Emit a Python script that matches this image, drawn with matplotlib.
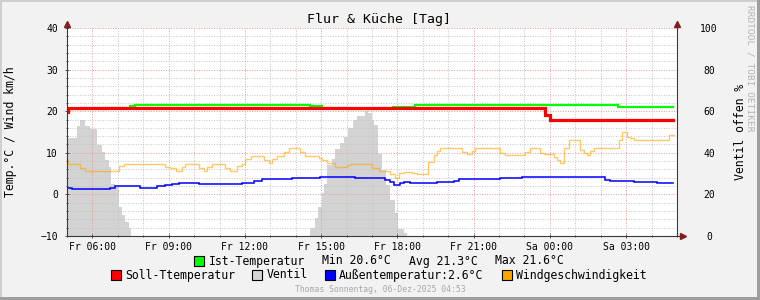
import matplotlib
matplotlib.use('Agg')
import matplotlib.pyplot as plt
from matplotlib.patches import Rectangle

plt.rcParams['font.family'] = ['DejaVu Sans Mono', 'DejaVu Sans']

# time axis in hours since Friday 00:00 (24h window, Fr 05:00 .. Sa 05:00)
x_ticks = [6, 9, 12, 15, 18, 21, 24, 27]
x_labels = ['Fr 06:00', 'Fr 09:00', 'Fr 12:00', 'Fr 15:00',
            'Fr 18:00', 'Fr 21:00', 'Sa 00:00', 'Sa 03:00']

# Ist-Temperatur (step start times / values)
ist_t = [5.0, 6.54, 7.48, 7.68, 14.57, 15.04, 16.02, 17.83, 18.70, 20.35, 22.36, 26.69, 28.86]
ist_v = [20.45, 20.75, 21.3, 21.5, 21.2, 20.8, 20.45, 21.1, 21.45, 21.6, 21.4, 21.1, 21.1]

# Soll-Temperatur
soll_t = [5.0, 5.05, 23.82, 24.02, 28.86]
soll_v = [19.8, 20.85, 19.0, 18.0, 18.0]

# Ventil offen in %
ventil_t = [5.0, 5.39, 5.52, 5.72, 5.92, 6.18, 6.38, 6.51, 6.64, 6.74, 6.88, 7.04, 7.17,
            7.30, 7.43, 7.53, 14.57, 14.76, 14.89, 15.03, 15.12, 15.22, 15.42, 15.55,
            15.75, 15.88, 16.07, 16.27, 16.41, 16.73, 16.86, 17.0, 17.06, 17.22, 17.39,
            17.56, 17.72, 17.89, 18.04, 18.24, 18.37, 28.87]
ventil_v = [47, 52.9, 55.8, 52.9, 51.4, 43.8, 40.5, 36.5, 33.3, 25, 23.7, 14.1, 10.1,
            6.9, 3.7, 0, 4.0, 8.5, 14.1, 20.5, 24.8, 34.1, 36.9, 41.7,
            44.6, 47.8, 51.8, 55.8, 57.7, 60.1, 59, 55.8, 53.4, 39.3, 31.7,
            24.5, 17.3, 10.9, 3.4, 1.3, 0, 0]

# Aussentemperatur
aussen_t = [5.0, 5.20, 6.71, 6.90, 7.89, 8.54, 8.87, 9.13, 9.40, 10.18, 10.38, 11.23,
            11.89, 12.35, 12.68, 13.86, 14.97, 16.35, 17.52, 17.72, 17.85, 18.11, 18.24,
            18.50, 19.55, 20.21, 20.41, 22.05, 22.90, 26.18, 26.38, 27.30, 28.22, 28.86]
aussen_v = [1.5, 1.3, 1.65, 1.9, 1.65, 1.9, 2.3, 2.6, 2.85, 2.6, 2.45, 2.6,
            2.85, 3.2, 3.6, 3.9, 4.15, 3.95, 3.5, 3.0, 2.3, 2.7, 2.9,
            2.75, 2.9, 3.3, 3.7, 3.9, 4.15, 3.5, 3.2, 3.0, 2.75, 2.75]

# Windgeschwindigkeit km/h
wind_t = [5.0, 5.05, 5.525, 5.72, 7.03, 7.23, 8.87, 9.07, 9.27, 9.53, 9.66, 10.18, 10.38,
          10.51, 10.71, 11.23, 11.43, 11.69, 11.89, 12.02, 12.22, 12.74, 12.94, 13.07,
          13.27, 13.53, 13.73, 14.17, 14.37, 14.90, 15.04, 15.22, 15.55, 15.75, 16.01,
          16.14, 17.00, 17.26, 17.72, 17.91, 18.07, 18.24, 18.57, 18.77, 19.22, 19.42,
          19.56, 19.69, 20.54, 20.74, 20.93, 21.06, 22.05, 22.24, 23.03, 23.23, 23.62,
          23.75, 24.15, 24.28, 24.41, 24.54, 24.74, 25.20, 25.33, 25.46, 25.59, 25.72,
          26.70, 26.84, 27.04, 27.17, 27.30, 28.67, 28.87]
wind_v = [8.2, 7.4, 6.45, 5.7, 6.9, 7.4, 6.7, 6.45, 5.7, 6.7, 7.4, 6.45, 5.7,
          6.7, 7.4, 6.45, 5.7, 6.9, 7.4, 8.55, 9.35, 8.3, 7.6, 8.55,
          9.35, 10.3, 11.1, 10.1, 9.35, 8.7, 8.3, 7.5, 6.7, 6.5, 7.1,
          7.4, 6.45, 5.7, 4.9, 4.0, 5.2, 5.5, 5.1, 4.95, 7.9, 9.5,
          10.5, 11.1, 10.1, 9.75, 10.5, 11.1, 9.9, 9.5, 10.3, 11.1, 10.05,
          9.75, 8.95, 8.15, 7.5, 11.1, 13.1, 10.7, 10.05, 9.5, 10.5, 11.1,
          13.1, 14.9, 13.9, 13.5, 13.1, 14.3, 14.3]

W, H = 760, 300
axis_col = '#3a3a3a'
arrow_col = '#7F1F1F'


def fx(px):
    return px / W


def fy(py):
    return 1 - py / H


fig = plt.figure(figsize=(7.6, 3.0), dpi=100, facecolor='#F2F2F2')

# frame (shade A top/left, shade B bottom/right)
fig.add_artist(Rectangle((0, fy(2)), 1, 2 / H, transform=fig.transFigure, color='#CFCFCF', lw=0))
fig.add_artist(Rectangle((0, 0), 2 / W, 1, transform=fig.transFigure, color='#CFCFCF', lw=0))
fig.add_artist(Rectangle((0, 0), 1, 3 / H, transform=fig.transFigure, color='#9E9E9E', lw=0))
fig.add_artist(Rectangle((fx(757), 0), 3 / W, 1, transform=fig.transFigure, color='#9E9E9E', lw=0))

ax = fig.add_axes([fx(67), fy(236), fx(677) - fx(67), fy(28) - fy(236)])
ax2 = ax.twinx()
ax.set_zorder(ax2.get_zorder() + 1)
ax.patch.set_visible(False)
ax2.patch.set_visible(True)
ax2.patch.set_facecolor('white')

# Ventil area on right axis
ax2.fill_between(ventil_t, ventil_v, 0, step='post', color='#D3D3D3', lw=0)
ax2.set_ylim(0, 100)
ax2.set_yticks([0, 20, 40, 60, 80, 100])

ax.set_xlim(5, 29)
ax.set_ylim(-10, 40)
ax.set_xticks(x_ticks)
ax.set_xticklabels(x_labels)
ax.set_xticks(range(5, 30), minor=True)
ax.set_yticks([-10, 0, 10, 20, 30, 40])
ax.set_yticks(range(-10, 41, 2), minor=True)

ax.grid(which='minor', color='#C4C4C4', lw=0.7, linestyle=(0, (1, 1.6)))
ax.grid(which='major', color='#E59A9A', lw=0.7, linestyle=(0, (1, 1.6)))

ax.step(ist_t, ist_v, where='post', color='#00FF00', lw=1.6, solid_joinstyle='miter')
ax.step(soll_t, soll_v, where='post', color='#FF0000', lw=2.3, solid_joinstyle='miter')
ax.step(aussen_t, aussen_v, where='post', color='#0000FF', lw=1.1, solid_joinstyle='miter')
ax.step(wind_t, wind_v, where='post', color='#FFA500', alpha=0.6, lw=1.0, solid_joinstyle='miter')

for s in ['top', 'right']:
    ax.spines[s].set_visible(False)
for s in ['top', 'left', 'bottom']:
    ax2.spines[s].set_visible(False)
for sp in [ax.spines['left'], ax.spines['bottom'], ax2.spines['right']]:
    sp.set_color(axis_col)
    sp.set_linewidth(0.8)

ax.tick_params(axis='both', which='both', colors=axis_col, labelcolor='black',
               labelsize=7, width=0.6)
ax.tick_params(axis='both', which='major', length=3, direction='inout')
ax.tick_params(axis='both', which='minor', length=2, direction='inout')
ax.tick_params(axis='y', pad=5)
ax.tick_params(axis='x', pad=3)
ax2.tick_params(axis='y', colors=axis_col, labelcolor='black', labelsize=7,
                length=0, pad=23)
for lab in ax2.get_yticklabels():
    lab.set_horizontalalignment('center')

# axis extensions and arrowheads
ax.plot([0, 0], [1, 1.02], transform=ax.transAxes, clip_on=False, color=axis_col, lw=0.8)
ax.plot([1, 1], [1, 1.02], transform=ax.transAxes, clip_on=False, color=axis_col, lw=0.8)
ax.plot([1, 1.01], [0, 0], transform=ax.transAxes, clip_on=False, color=axis_col, lw=0.8)
ax.plot([0], [1.02], marker='^', ms=4.5, color=arrow_col, transform=ax.transAxes, clip_on=False)
ax.plot([1], [1.02], marker='^', ms=4.5, color=arrow_col, transform=ax.transAxes, clip_on=False)
ax.plot([1.01], [0], marker='>', ms=4.5, color=arrow_col, transform=ax.transAxes, clip_on=False)

ax.set_ylabel('Temp.°C / Wind km/h', fontsize=8.3)
ax.yaxis.label.set_verticalalignment('center')
ax.yaxis.set_label_coords((11 - 67) / 610, 0.5)
ax2.set_ylabel('Ventil offen %', fontsize=8.3)
ax2.yaxis.label.set_verticalalignment('center')
ax2.yaxis.set_label_coords((740 - 67) / 610, 0.5)

fig.text(fx(379), fy(19), 'Flur & Küche [Tag]', fontsize=9.5, ha='center', va='center')
fig.text(fx(750), fy(5), 'RRDTOOL / TOBI OETIKER', fontsize=6.8, color='#B4B4B4',
         rotation=-90, ha='center', va='top')
fig.text(fx(380), fy(289), 'Thomas Sonnentag, 06-Dez-2025 04:53', fontsize=5.9,
         color='#A8A8A8', ha='center', va='center')

# legend
def legend_box(x, y, color):
    fig.add_artist(Rectangle((fx(x), fy(y + 9.5)), 9.5 / W, 9.5 / H, transform=fig.transFigure,
                             facecolor=color, edgecolor='black', lw=0.8))

legend_box(194, 256, '#00FF00')
fig.text(fx(209), fy(261), 'Ist-Temperatur', fontsize=8.3, va='center')
fig.text(fx(322), fy(261), 'Min 20.6°C', fontsize=8.3, va='center')
fig.text(fx(409), fy(261), 'Avg 21.3°C', fontsize=8.3, va='center')
fig.text(fx(495), fy(261), 'Max 21.6°C', fontsize=8.3, va='center')

legend_box(111, 270, '#FF0000')
fig.text(fx(125), fy(275), 'Soll-Ttemperatur', fontsize=8.3, va='center')
legend_box(252, 270, '#D3D3D3')
fig.text(fx(267), fy(275), 'Ventil', fontsize=8.3, va='center')
legend_box(325, 270, '#0000FF')
fig.text(fx(339), fy(275), 'Außentemperatur:2.6°C', fontsize=8.3, va='center')
legend_box(502, 270, '#FFA500')
fig.text(fx(516), fy(275), 'Windgeschwindigkeit', fontsize=8.3, va='center')

fig.savefig('out.png', dpi=100, facecolor=fig.get_facecolor())
